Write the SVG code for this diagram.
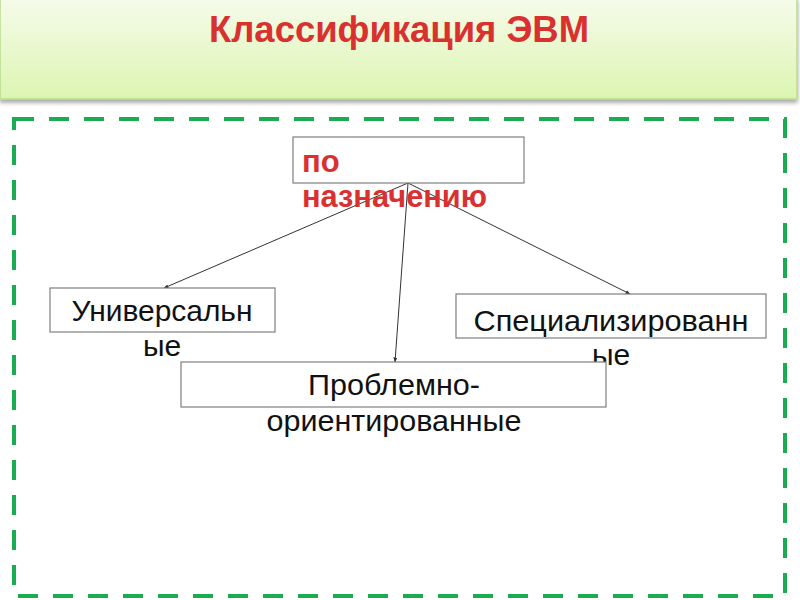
<svg xmlns="http://www.w3.org/2000/svg" width="800" height="600" viewBox="0 0 800 600">
<defs>
<linearGradient id="hdr" x1="0" y1="0" x2="0" y2="1">
<stop offset="0" stop-color="#f6fbea"/>
<stop offset="1" stop-color="#dcf5b2"/>
</linearGradient>
<filter id="sh" x="-5%" y="-10%" width="110%" height="130%">
<feGaussianBlur in="SourceAlpha" stdDeviation="2"/>
<feOffset dx="0" dy="3"/>
<feComponentTransfer><feFuncA type="linear" slope="0.35"/></feComponentTransfer>
<feMerge><feMergeNode/><feMergeNode in="SourceGraphic"/></feMerge>
</filter>
<marker id="arr" viewBox="0 0 10 10" refX="9" refY="5" markerWidth="5" markerHeight="5" orient="auto">
<path d="M0,1 L10,5 L0,9 z" fill="#333"/>
</marker>
</defs>
<style>
.box{fill:#fff;stroke:#7f7f7f;stroke-width:1.2}
.lbl{font-family:"Liberation Sans",Arial,sans-serif;font-size:30px;fill:#111;text-anchor:middle}
.red{font-family:"Liberation Sans",Arial,sans-serif;font-weight:bold;fill:#d93030}
.con{stroke:#333;stroke-width:1;fill:none;marker-end:url(#arr)}
</style>
<rect width="800" height="600" fill="#fff"/>
<g id="header">
<rect x="0" y="-2" width="797" height="101" fill="url(#hdr)" stroke="#b8dc8c" stroke-width="1.5" filter="url(#sh)"/>
<text class="red" x="399" y="42" font-size="37" text-anchor="middle" textLength="380" lengthAdjust="spacingAndGlyphs">Классификация ЭВМ</text>
</g>
<rect x="14" y="119" width="771" height="477" fill="none" stroke="#1bab50" stroke-width="4" stroke-dasharray="20 15"/>
<g id="connectors">
<line class="con" x1="408" y1="183" x2="164" y2="288"/>
<line class="con" x1="408" y1="183" x2="395" y2="362"/>
<line class="con" x1="408" y1="183" x2="630" y2="294"/>
</g>
<g id="node-root">
<rect class="box" x="293" y="137" width="231" height="46"/>
<text class="red" x="302" y="172" font-size="31">по</text>
<text class="red" x="302" y="207" font-size="31" textLength="185" lengthAdjust="spacingAndGlyphs">назначению</text>
</g>
<g id="node-universal">
<rect class="box" x="50" y="288" width="225" height="44"/>
<text class="lbl" x="162" y="321" textLength="181" lengthAdjust="spacingAndGlyphs">Универсальн</text>
<text class="lbl" x="162" y="356">ые</text>
</g>
<g id="node-special">
<rect class="box" x="456" y="294" width="310" height="44"/>
<text class="lbl" x="611" y="331" textLength="275" lengthAdjust="spacingAndGlyphs">Специализированн</text>
<text class="lbl" x="611" y="365">ые</text>
</g>
<g id="node-problem">
<rect class="box" x="181" y="362" width="425" height="45"/>
<text class="lbl" x="394" y="395" textLength="172" lengthAdjust="spacingAndGlyphs">Проблемно-</text>
<text class="lbl" x="394" y="431" textLength="255" lengthAdjust="spacingAndGlyphs">ориентированные</text>
</g>
</svg>
